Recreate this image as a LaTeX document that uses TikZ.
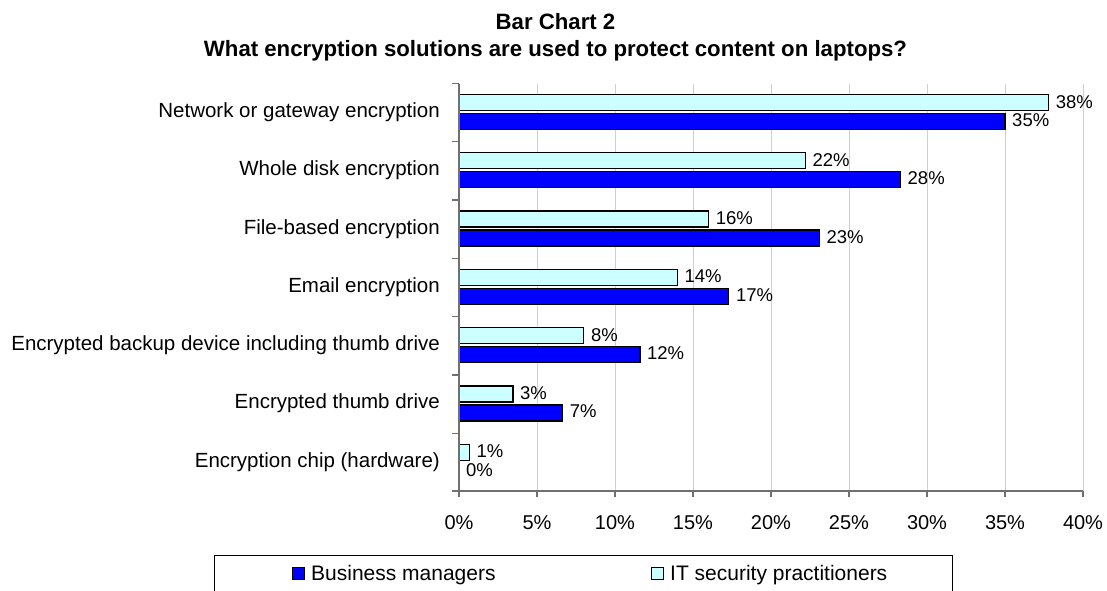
\documentclass[tikz,border=0pt]{standalone}
\usepackage{fontspec}
\setmainfont{Liberation Sans}
\definecolor{itc}{HTML}{CCFFFF}
\definecolor{bmc}{HTML}{0000FF}
\definecolor{gridc}{HTML}{CFCFCF}
\definecolor{axisc}{HTML}{707070}
\begin{document}
\begin{tikzpicture}[x=1pt,y=-1pt,
  catlab/.style={anchor=base east, inner sep=0pt, font=\fontsize{20.5}{24}\selectfont},
  vallab/.style={anchor=base west, inner sep=0pt, font=\fontsize{18.5}{22}\selectfont},
  ticklab/.style={anchor=base, inner sep=0pt, font=\fontsize{20}{24}\selectfont},
  legtext/.style={anchor=base west, inner sep=0pt, font=\fontsize{21}{25}\selectfont},
  titletext/.style={anchor=base, inner sep=0pt, font=\fontsize{22.2}{26}\selectfont\bfseries},
  itbar/.style={draw=black, line width=1.2pt, fill=itc},
  bmbar/.style={draw=black, line width=1.2pt, fill=bmc},
  gridline/.style={draw=gridc, line width=1pt},
  axisline/.style={draw=axisc, line width=1.3pt},
  legsq/.style={draw=black, line width=0.9pt, minimum size=12pt, inner sep=0pt}]
\useasboundingbox (0,0) rectangle (1107,590);
% titles
\node[titletext] (t1) at (555.5,29) {Bar Chart 2};
\node[titletext] (t2) at (555.5,56.5) {What encryption solutions are used to protect content on laptops?};
% grid
\foreach \k in {1,...,8} \draw[gridline] ({459+78*\k},83.5) -- ({459+78*\k},491);
% bars and labels
\foreach \lab/\va/\vb/\la/\lb [count=\i from 0] in {
  {Network or gateway encryption}/37.8/35.0/38/35,
  {Whole disk encryption}/22.2/28.3/22/28,
  {File-based encryption}/16.0/23.1/16/23,
  {Email encryption}/14.0/17.3/14/17,
  {Encrypted backup device including thumb drive}/8.0/11.6/8/12,
  {Encrypted thumb drive}/3.46/6.65/3/7,
  {Encryption chip (hardware)}/0.66/0/1/0}{
  \pgfmathsetmacro{\T}{83.5+58.29*\i}
  \pgfmathsetmacro{\xa}{459+15.6*\va}
  \pgfmathsetmacro{\xb}{459+15.6*\vb}
  \node[catlab] (cat\i) at (440,\T+34) {\lab};
  \draw[itbar] (459,\T+11) rectangle (\xa,\T+27);
  \draw[bmbar] (459,\T+30) rectangle (\xb,\T+46);
  \node[vallab] (va\i) at (\xa+7,\T+24.5) {\la\%};
  \node[vallab] (vb\i) at (\xb+7,\T+43) {\lb\%};
}
% axes
\draw[axisline] (459,83.5) -- (459,491);
\draw[axisline] (452,491) -- (1083,491);
\foreach \i in {0,...,7} \draw[axisline] (452,{83.5+58.29*\i}) -- (459,{83.5+58.29*\i});
\foreach \k [evaluate=\k as \pc using int(5*\k)] in {0,...,8} {
  \draw[axisline] ({459+78*\k},491) -- ({459+78*\k},497);
  \node[ticklab] (tick\k) at ({459+78*\k},529) {\pc\%};
}
% legend
\draw[black, line width=1pt] (214,591) -- (214,555.5) -- (952,555.5) -- (952,591);
\node[legsq, fill=bmc] (bmsq) at (298,573) {};
\node[legtext] (bmtxt) at (311,580) {Business managers};
\node[legsq, fill=itc] (itsq) at (657,573) {};
\node[legtext] (ittxt) at (670,580) {IT security practitioners};
\end{tikzpicture}
\end{document}
